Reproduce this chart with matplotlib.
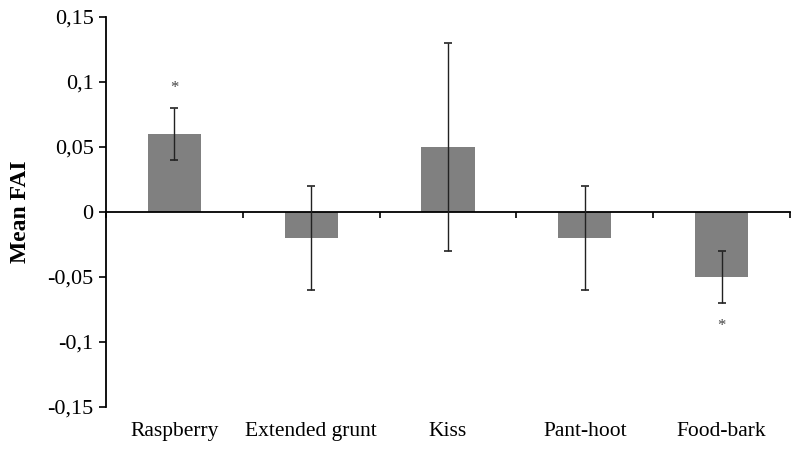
import matplotlib
matplotlib.use("Agg")
import matplotlib.pyplot as plt
from matplotlib.ticker import FuncFormatter
import numpy as np

# data
calls = ["Raspberry", "Extended grunt", "Kiss", "Pant-hoot", "Food-bark"]
mean_fai = [0.06, -0.02, 0.05, -0.02, -0.05]
err = [0.02, 0.04, 0.08, 0.04, 0.02]
star_y = [0.095, None, None, None, -0.088]

plt.rcParams["font.family"] = ["Liberation Serif", "DejaVu Serif"]

fig = plt.figure(figsize=(8, 4.51), dpi=100)
ax = fig.add_axes([0.1325, 0.0976, 0.855, 0.8647])

x = np.arange(len(calls))
ax.bar(x, mean_fai, width=0.39, color="#808080", zorder=2)
ax.errorbar(x, mean_fai, yerr=err, fmt="none", ecolor="#222222",
            elinewidth=1.0, capsize=3, capthick=1.2, zorder=3)

for xi, sy in zip(x, star_y):
    if sy is not None:
        ax.text(xi, sy, "*", ha="center", va="center", fontsize=12, color="#444444")

ax.set_xlim(-0.5, len(calls) - 0.5)
ax.set_ylim(-0.15, 0.15)
ax.set_yticks([-0.15, -0.1, -0.05, 0, 0.05, 0.1, 0.15])


def comma_fmt(v, pos):
    s = f"{v:.2f}".rstrip("0").rstrip(".")
    if s in ("-0", "0"):
        s = "0"
    return s.replace(".", ",")


ax.yaxis.set_major_formatter(FuncFormatter(comma_fmt))
ax.tick_params(axis="y", direction="out", length=5, width=1.2, labelsize=16, pad=4)

# x axis at zero with boundary ticks
ax.spines["bottom"].set_position(("data", 0))
ax.spines["top"].set_visible(False)
ax.spines["right"].set_visible(False)
ax.spines["left"].set_linewidth(1.3)
ax.spines["bottom"].set_linewidth(1.3)
ax.set_xticks(np.arange(len(calls) + 1) - 0.5)
ax.set_xticklabels([])
ax.tick_params(axis="x", direction="out", length=4, width=1.2)

for xi, name in zip(x, calls):
    ax.text(xi, -0.063, name, transform=ax.get_xaxis_transform(),
            ha="center", va="center", fontsize=15.5)

ax.set_ylabel("Mean FAI", fontsize=17, fontweight="bold", labelpad=12)

fig.savefig("out.png", dpi=100)
